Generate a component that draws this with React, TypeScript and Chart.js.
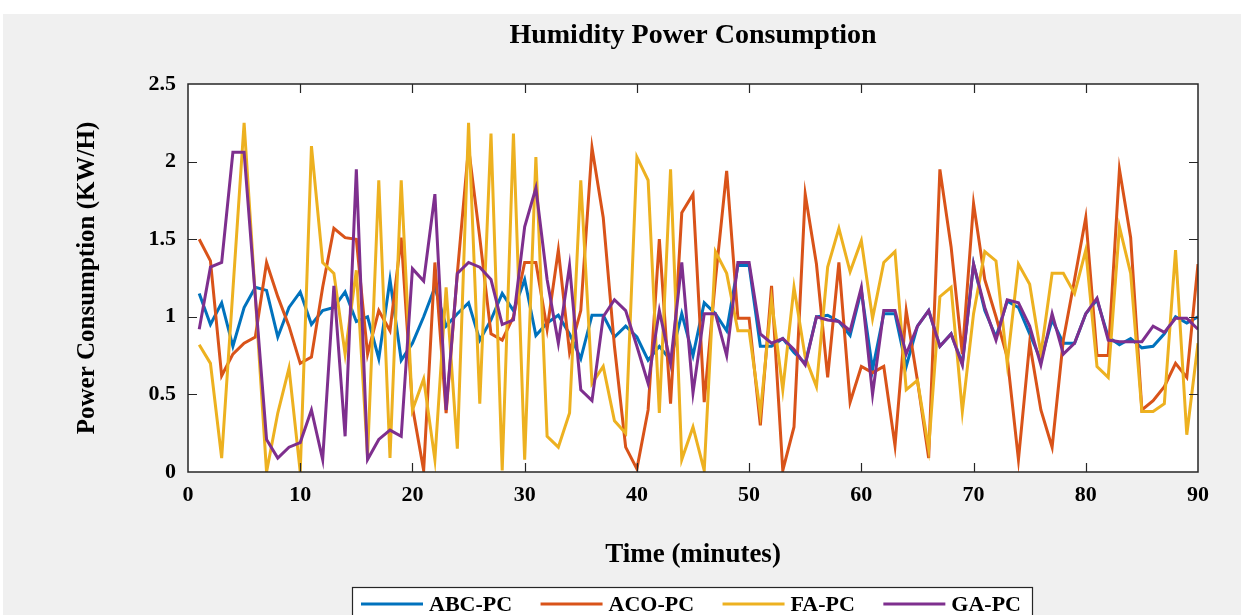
import React, { useEffect, useRef } from "react";
import { Chart, registerables } from "chart.js";

Chart.register(...registerables);

const minutes = [
  1, 2, 3, 4, 5, 6, 7, 8, 9, 10, 11, 12, 13, 14, 15, 16, 17, 18, 19, 20,
  21, 22, 23, 24, 25, 26, 27, 28, 29, 30, 31, 32, 33, 34, 35, 36, 37, 38, 39, 40,
  41, 42, 43, 44, 45, 46, 47, 48, 49, 50, 51, 52, 53, 54, 55, 56, 57, 58, 59, 60,
  61, 62, 63, 64, 65, 66, 67, 68, 69, 70, 71, 72, 73, 74, 75, 76, 77, 78, 79, 80,
  81, 82, 83, 84, 85, 86, 87, 88, 89, 90,
];

const abcPC = [
  1.15, 0.95, 1.09, 0.81, 1.06, 1.19, 1.17, 0.87, 1.06, 1.16,
  0.95, 1.04, 1.06, 1.16, 0.97, 1.0, 0.73, 1.24, 0.72, 0.83,
  1.0, 1.19, 0.94, 1.02, 1.09, 0.85, 0.98, 1.15, 1.04, 1.24,
  0.88, 0.96, 1.01, 0.89, 0.73, 1.01, 1.01, 0.87, 0.94, 0.87,
  0.72, 0.81, 0.72, 1.02, 0.75, 1.09, 1.02, 0.91, 1.33, 1.33,
  0.81, 0.81, 0.86, 0.77, 0.7, 1.0, 1.01, 0.97, 0.88, 1.17,
  0.66, 1.02, 1.02, 0.68, 0.94, 1.04, 0.81, 0.89, 0.7, 1.34,
  1.04, 0.87, 1.1, 1.06, 0.89, 0.72, 0.98, 0.83, 0.83, 1.02,
  1.11, 0.87, 0.82, 0.86, 0.8, 0.81, 0.89, 1.0, 0.96, 1.0,
];

const acoPC = [
  1.5, 1.36, 0.62, 0.76, 0.83, 0.87, 1.35, 1.13, 0.94, 0.7,
  0.74, 1.19, 1.57, 1.51, 1.5, 0.76, 1.04, 0.91, 1.51, 0.42,
  0.01, 1.35, 0.38, 1.28, 2.09, 1.51, 0.89, 0.85, 1.0, 1.35,
  1.35, 0.92, 1.43, 0.77, 1.04, 2.09, 1.64, 0.81, 0.16, 0.02,
  0.4, 1.5, 0.44, 1.67, 1.79, 0.45, 1.24, 1.94, 0.99, 0.99,
  0.3, 1.2, 0.01, 0.29, 1.79, 1.34, 0.61, 1.35, 0.45, 0.68,
  0.64, 0.68, 0.17, 1.04, 0.59, 0.09, 1.95, 1.45, 0.76, 1.73,
  1.24, 1.0, 0.74, 0.08, 0.83, 0.4, 0.16, 0.85, 1.24, 1.64,
  0.75, 0.75, 1.95, 1.51, 0.4, 0.46, 0.55, 0.7, 0.61, 1.34,
];

const faPC = [
  0.82, 0.7, 0.09, 1.17, 2.25, 1.13, 0.0, 0.38, 0.67, 0.0,
  2.1, 1.35, 1.28, 0.76, 1.3, 0.1, 1.88, 0.09, 1.88, 0.4,
  0.6, 0.08, 1.19, 0.15, 2.25, 0.44, 2.18, 0.01, 2.18, 0.08,
  2.03, 0.23, 0.16, 0.38, 1.88, 0.57, 0.68, 0.33, 0.25, 2.03,
  1.88, 0.38, 1.95, 0.08, 0.29, 0.01, 1.42, 1.28, 0.91, 0.91,
  0.38, 1.11, 0.53, 1.19, 0.74, 0.55, 1.32, 1.57, 1.29, 1.49,
  0.99, 1.35, 1.42, 0.53, 0.59, 0.15, 1.13, 1.19, 0.39, 1.02,
  1.42, 1.36, 0.7, 1.34, 1.21, 0.76, 1.28, 1.28, 1.15, 1.43,
  0.68, 0.61, 1.58, 1.28, 0.39, 0.39, 0.44, 1.43, 0.24, 0.83,
];

const gaPC = [
  0.92, 1.32, 1.35, 2.06, 2.06, 1.13, 0.21, 0.09, 0.16, 0.19,
  0.4, 0.08, 1.2, 0.23, 1.95, 0.08, 0.21, 0.27, 0.23, 1.31,
  1.23, 1.79, 0.4, 1.28, 1.35, 1.32, 1.24, 0.95, 0.98, 1.58,
  1.83, 1.24, 0.83, 1.33, 0.53, 0.46, 1.0, 1.11, 1.04, 0.81,
  0.57, 1.04, 0.7, 1.35, 0.51, 1.02, 1.02, 0.75, 1.35, 1.35,
  0.89, 0.83, 0.86, 0.79, 0.69, 1.0, 0.98, 0.97, 0.91, 1.19,
  0.5, 1.04, 1.04, 0.76, 0.94, 1.04, 0.81, 0.89, 0.69, 1.34,
  1.06, 0.85, 1.11, 1.09, 0.94, 0.69, 1.02, 0.76, 0.83, 1.02,
  1.12, 0.85, 0.84, 0.84, 0.84, 0.94, 0.9, 0.99, 0.99, 0.92,
];

const seriesNames = ["ABC-PC", "ACO-PC", "FA-PC", "GA-PC"];
const seriesColors = ["#0072BD", "#D95319", "#EDB120", "#7E2F8E"];
const xTickValues = [0, 10, 20, 30, 40, 50, 60, 70, 80, 90];
const yTickValues = [0, 0.5, 1, 1.5, 2, 2.5];
const yTickLabels = ["0", "0.5", "1", "1.5", "2", "2.5"];

const chartTitle = "Humidity Power Consumption";
const xTitle = "Time (minutes)";
const yTitle = "Power Consumption (KW/H)";

const FONT = "'Liberation Serif', 'Times New Roman', Times, serif";
const W = 1241;
const H = 615;

const figureBackground = {
  id: "figureBackground",
  beforeDraw(chart: any) {
    const { ctx, width, height, chartArea: a } = chart;
    ctx.save();
    ctx.fillStyle = "#ffffff";
    ctx.fillRect(0, 0, width, height);
    ctx.fillStyle = "#f0f0f0";
    ctx.fillRect(3, 14, width - 3, height - 14);
    ctx.fillStyle = "#ffffff";
    ctx.fillRect(a.left, a.top, a.right - a.left, a.bottom - a.top);
    ctx.restore();
  },
};

const axesBox = {
  id: "axesBox",
  afterDatasetsDraw(chart: any) {
    const { ctx, chartArea: a, scales } = chart;
    ctx.save();
    ctx.strokeStyle = "#262626";
    ctx.lineWidth = 1.5;
    ctx.strokeRect(a.left, a.top, a.right - a.left, a.bottom - a.top);
    ctx.lineWidth = 1.2;
    const len = 9;
    ctx.beginPath();
    for (const t of scales.x.ticks) {
      const px = Math.round(scales.x.getPixelForValue(t.value)) + 0.5;
      if (px <= a.left + 2 || px >= a.right - 2) continue;
      ctx.moveTo(px, a.bottom);
      ctx.lineTo(px, a.bottom - len);
      ctx.moveTo(px, a.top);
      ctx.lineTo(px, a.top + len);
    }
    for (const t of scales.y.ticks) {
      const py = Math.round(scales.y.getPixelForValue(t.value)) + 0.5;
      if (py <= a.top + 2 || py >= a.bottom - 2) continue;
      ctx.moveTo(a.left, py);
      ctx.lineTo(a.left + len, py);
      ctx.moveTo(a.right, py);
      ctx.lineTo(a.right - len, py);
    }
    ctx.stroke();
    ctx.restore();
  },
};

const boxedLegend = {
  id: "boxedLegend",
  afterDraw(chart: any) {
    const { ctx } = chart;
    const boxLeft = 352;
    const boxTop = 587;
    const boxRight = 1032;
    const cy = 604;
    ctx.save();
    ctx.fillStyle = "#ffffff";
    ctx.fillRect(boxLeft, boxTop, boxRight - boxLeft, 40);
    ctx.strokeStyle = "#262626";
    ctx.lineWidth = 1.2;
    ctx.strokeRect(boxLeft + 0.5, boxTop + 0.5, boxRight - boxLeft, 40);
    ctx.font = `bold 22px ${FONT}`;
    ctx.textBaseline = "middle";
    ctx.textAlign = "left";
    const lineLen = 62;
    const gapText = 6;
    const items = chart.data.datasets.map((d: any) => ({
      label: d.label,
      color: d.borderColor,
      w: ctx.measureText(d.label).width,
    }));
    const total = items.reduce((s: number, it: any) => s + lineLen + gapText + it.w, 0);
    const inner = boxRight - boxLeft - 20;
    const gap = (inner - total) / (items.length - 1);
    let x = boxLeft + 9;
    for (const it of items) {
      ctx.strokeStyle = it.color;
      ctx.lineWidth = 3;
      ctx.beginPath();
      ctx.moveTo(x, cy);
      ctx.lineTo(x + lineLen, cy);
      ctx.stroke();
      ctx.fillStyle = "#000000";
      ctx.fillText(it.label, x + lineLen + gapText, cy + 1);
      x += lineLen + gapText + it.w + gap;
    }
    ctx.restore();
  },
};

export default function App() {
  const canvasRef = useRef<HTMLCanvasElement | null>(null);

  useEffect(() => {
    const canvas = canvasRef.current;
    if (!canvas) return;
    const seriesValues = [abcPC, acoPC, faPC, gaPC];
    const datasets = seriesValues.map((vals, i) => ({
      label: seriesNames[i],
      data: minutes.map((m, j) => ({ x: m, y: vals[j] })),
      borderColor: seriesColors[i],
      backgroundColor: seriesColors[i],
      borderWidth: 3,
      pointRadius: 0,
      tension: 0,
      fill: false,
      order: seriesValues.length - i,
    }));

    const chart = new Chart(canvas, {
      type: "line",
      data: { datasets },
      options: {
        animation: false,
        responsive: false,
        devicePixelRatio: 1,
        events: [],
        layout: { padding: { top: 0, left: 0, right: 43, bottom: 0 } },
        plugins: {
          legend: { display: false },
          tooltip: { enabled: false },
          title: {
            display: true,
            text: chartTitle,
            fullSize: false,
            color: "#000000",
            font: { family: FONT, size: 28, weight: "bold" },
            padding: { top: 18.5, bottom: 31.9 },
          },
        },
        scales: {
          x: {
            type: "linear",
            position: "bottom",
            min: 0,
            max: 90,
            afterBuildTicks: (s: any) => {
              s.ticks = xTickValues.map((v) => ({ value: v }));
            },
            afterFit: (s: any) => {
              s.height = 143;
            },
            grid: { display: false, drawTicks: false },
            border: { display: false },
            ticks: {
              color: "#000000",
              font: { family: FONT, size: 22, weight: "bold" },
              padding: 10,
              maxRotation: 0,
              autoSkip: false,
            },
            title: {
              display: true,
              text: xTitle,
              color: "#000000",
              font: { family: FONT, size: 27, weight: "bold" },
              padding: { top: 0, bottom: 44 },
            },
          },
          y: {
            type: "linear",
            position: "left",
            min: 0,
            max: 2.5,
            afterBuildTicks: (s: any) => {
              s.ticks = yTickValues.map((v) => ({ value: v }));
            },
            afterFit: (s: any) => {
              s.width = 188;
            },
            grid: { display: false, drawTicks: false },
            border: { display: false },
            ticks: {
              color: "#000000",
              font: { family: FONT, size: 22, weight: "bold" },
              padding: 12,
              autoSkip: false,
              callback: (value: any) => {
                const idx = yTickValues.indexOf(Number(value));
                return idx >= 0 ? yTickLabels[idx] : String(value);
              },
            },
            title: {
              display: true,
              text: yTitle,
              color: "#000000",
              font: { family: FONT, size: 25, weight: "bold" },
              padding: { top: 73, bottom: 0 },
            },
          },
        },
      },
      plugins: [figureBackground, axesBox, boxedLegend],
    });

    return () => {
      chart.destroy();
    };
  }, []);

  return (
    <div style={{ position: "absolute", left: 0, top: 0, width: W, height: H, overflow: "hidden", background: "#ffffff" }}>
      <canvas ref={canvasRef} width={W} height={H} style={{ width: W, height: H, display: "block" }} />
    </div>
  );
}
